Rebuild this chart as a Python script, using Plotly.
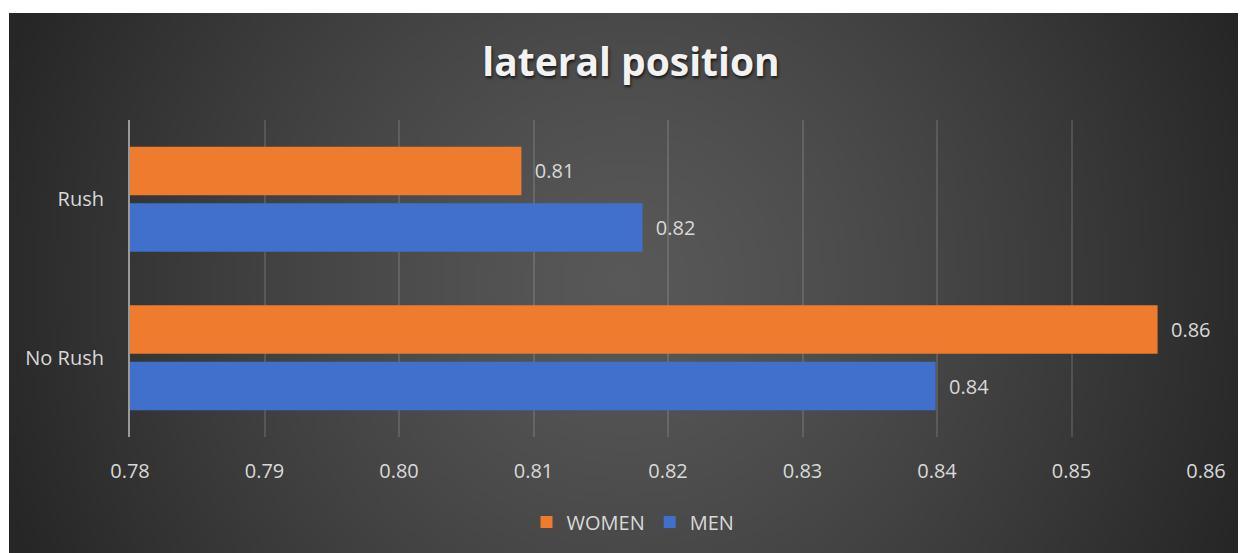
import base64
import struct
import zlib

import plotly.graph_objects as go

# ---- data ----
categories = ["No Rush", "Rush"]
women = [0.8564, 0.8091]
men = [0.8399, 0.8181]
x_ticks = [0.78, 0.79, 0.80, 0.81, 0.82, 0.83, 0.84, 0.85, 0.86]

# page body has an 8px margin; figure is sized so the page matches 1246x553
OFF = 8
FW, FH = 1246 - OFF, 553 - OFF

# ---- background radial gradient as PNG (style only) ----
W_BG, H_BG = 1237, 540
SW, SH = 248, 108


def make_png(w, h, rows):
    raw = b"".join(b"\x00" + bytes(r) for r in rows)

    def chunk(tag, data):
        c = struct.pack(">I", len(data)) + tag + data
        return c + struct.pack(">I", zlib.crc32(tag + data) & 0xFFFFFFFF)

    png = b"\x89PNG\r\n\x1a\n"
    png += chunk(b"IHDR", struct.pack(">IIBBBBB", w, h, 8, 2, 0, 0, 0))
    png += chunk(b"IDAT", zlib.compress(raw, 9))
    png += chunk(b"IEND", b"")
    return "data:image/png;base64," + base64.b64encode(png).decode()


rows = []
cx, cy, R = 618.0, 270.0, 660.0
for j in range(SH):
    row = []
    py = (j + 0.5) * H_BG / SH
    for i in range(SW):
        px = (i + 0.5) * W_BG / SW
        d = ((px - cx) ** 2 + (py - cy) ** 2) ** 0.5 / R
        d = min(d, 1.0)
        v = int(round(38 + 50 * (1 - d ** 1.3)))
        row.extend([v, v, v])
    rows.append(row)
bg_uri = make_png(SW, SH, rows)

# ---- layout geometry (reference pixel coords minus body offset) ----
L = 130 - OFF
T = 120 - OFF
RM = FW - (1206 - OFF)
B = FH - (437 - OFF)
PW, PH = FW - L - RM, FH - T - B

LABEL_FONT = dict(color="#d9d9d9", size=20, family="Open Sans")

fig = go.Figure()
fig.add_trace(go.Bar(
    y=categories, x=men, name="MEN", orientation="h",
    marker=dict(color="#4170CC", line=dict(width=0)),
    texttemplate="  %{x:.2f}", textposition="outside", cliponaxis=False,
    textfont=LABEL_FONT, legendrank=2,
))
fig.add_trace(go.Bar(
    y=categories, x=women, name="WOMEN", orientation="h",
    marker=dict(color="#EE7B2E", line=dict(width=0)),
    texttemplate="  %{x:.2f}", textposition="outside", cliponaxis=False,
    textfont=LABEL_FONT, legendrank=1,
))

fig.add_layout_image(dict(
    source=bg_uri, xref="paper", yref="paper",
    x=(9 - OFF - L) / PW, y=(FH - B - (13 - OFF)) / PH,
    sizex=W_BG / PW, sizey=H_BG / PH,
    xanchor="left", yanchor="top", sizing="stretch", layer="below",
))

fig.update_layout(
    width=FW, height=FH,
    margin=dict(l=L, r=RM, t=T, b=B, pad=0),
    paper_bgcolor="white",
    plot_bgcolor="rgba(0,0,0,0)",
    barmode="group", bargap=0.287, bargroupgap=0.14,
    font=dict(family="Open Sans", color="#d9d9d9", size=20),
    title=dict(
        text="lateral position",
        x=(631 - OFF) / FW, xanchor="center", xref="container",
        y=1 - (62 - OFF) / FH, yanchor="middle", yref="container",
        font=dict(family="Open Sans", size=39, color="#f2f2f2", weight="bold",
                  shadow="1px 2px 3px rgba(0,0,0,0.7)"),
    ),
    legend=dict(
        orientation="h", x=(633 - OFF - L) / PW, xanchor="center",
        y=(FH - B - (522 - OFF)) / PH, yanchor="middle",
        font=dict(size=20, color="#d9d9d9", family="Open Sans"),
        bgcolor="rgba(0,0,0,0)", itemwidth=30,
    ),
    xaxis=dict(
        range=[0.78, 0.86], tickvals=x_ticks, tickformat=".2f",
        showgrid=True, gridcolor="rgba(255,255,255,0.13)", gridwidth=1.5,
        zeroline=False, showline=False, ticks="", ticklabelstandoff=20,
        tickfont=dict(size=20, color="#d9d9d9"),
    ),
    yaxis=dict(
        showgrid=False, zeroline=False, showline=True,
        linecolor="#9a9a9a", linewidth=2, ticks="", ticklabelstandoff=20,
        tickfont=dict(size=20, color="#d9d9d9"),
    ),
)

fig.write_html("out.html")
